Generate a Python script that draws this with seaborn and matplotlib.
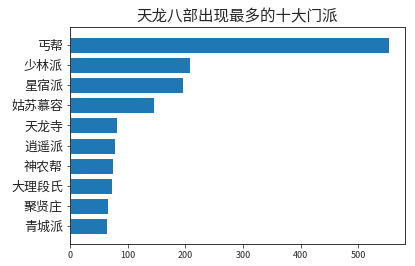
import matplotlib
matplotlib.use("Agg")
import matplotlib.pyplot as plt
import seaborn as sns
import pandas as pd

sects = ["丐帮", "少林派", "星宿派", "姑苏慕容", "天龙寺", "逍遥派", "神农帮", "大理段氏", "聚贤庄", "青城派"]
counts = [553, 208, 196, 145, 81, 78, 74, 72, 65, 64]
title = "天龙八部出现最多的十大门派"

sns.set_style("ticks")
plt.rcParams['font.family'] = ['Noto Sans CJK SC', 'DejaVu Sans']
plt.rcParams['axes.unicode_minus'] = False

df = pd.DataFrame({"sect": sects, "count": counts})

fig = plt.figure(figsize=(415 / 72, 266 / 72), dpi=72)
ax = fig.add_axes([70 / 415, 22 / 266, 335 / 415, 217 / 266])
sns.barplot(data=df, x="count", y="sect", orient="h", color="#1f77b4",
            saturation=1, width=0.8, ax=ax)
n = len(sects)
ax.set_ylim(n - 1 + 0.4 + 0.49, -0.4 - 0.49)
ax.set_xlim(0, max(counts) * 1.05)
ax.set_xticks([0, 100, 200, 300, 400, 500])
ax.set_xlabel("")
ax.set_ylabel("")
ax.tick_params(axis="y", labelsize=13, length=3.5, color="#333333")
ax.tick_params(axis="x", labelsize=9, length=3.5, color="#333333")
for s in ax.spines.values():
    s.set_color("#222222")
    s.set_linewidth(0.9)
ax.set_title(title, fontsize=15.5)
fig.savefig("out.png", dpi=72, facecolor="white")
